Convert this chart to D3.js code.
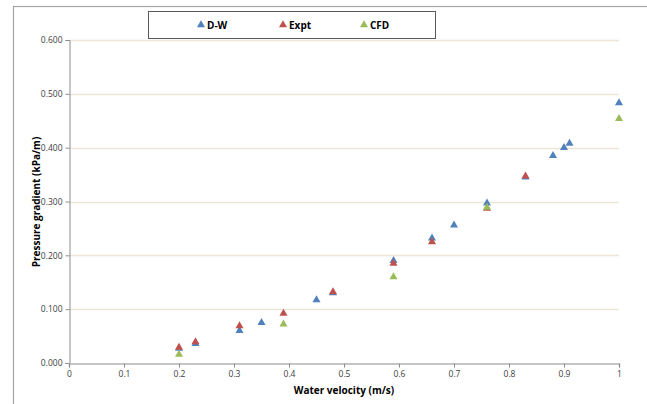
<!DOCTYPE html>
<html><head><meta charset="utf-8">
<script src="https://cdn.jsdelivr.net/npm/d3@7"></script>
<style>
body{margin:0;background:#fff;}
text{font-family:"Open Sans","Liberation Sans",sans-serif;}
</style></head>
<body><svg id="c" width="647" height="404"></svg>
<script>
const xTicks = [0,0.1,0.2,0.3,0.4,0.5,0.6,0.7,0.8,0.9,1];
const xTickLabels = ["0","0.1","0.2","0.3","0.4","0.5","0.6","0.7","0.8","0.9","1"];
const yTicks = [0,0.1,0.2,0.3,0.4,0.5,0.6];
const seriesNames = ["D-W","Expt","CFD"];
const seriesColors = ["#4f81bd","#c0504d","#9bbb59"];
const dwX = [0.2,0.23,0.31,0.35,0.45,0.48,0.59,0.66,0.70,0.76,0.83,0.88,0.90,0.91,1.0];
const dwY = [0.027,0.036,0.060,0.075,0.117,0.130,0.190,0.232,0.256,0.297,0.345,0.385,0.400,0.408,0.483];
const exptX = [0.2,0.23,0.31,0.39,0.48,0.59,0.66,0.76,0.83];
const exptY = [0.029,0.039,0.069,0.092,0.132,0.185,0.225,0.287,0.347];
const cfdX = [0.2,0.39,0.59,0.76,1.0];
const cfdY = [0.016,0.072,0.160,0.289,0.454];

const svg = d3.select("#c");
// outer frame
svg.append("rect").attr("x",13.5).attr("y",6.5).attr("width",700).attr("height",500)
  .attr("fill","none").attr("stroke","#a6a6a6").attr("stroke-width",1.2);

const x = d3.scaleLinear().domain([0,1]).range([69,619]);
const y = d3.scaleLinear().domain([0,0.6]).range([363,40]);

// gridlines
svg.append("g").selectAll("line").data(yTicks.slice(1)).join("line")
  .attr("x1",69).attr("x2",619).attr("y1",d=>Math.round(y(d))+0.5).attr("y2",d=>Math.round(y(d))+0.5)
  .attr("stroke","#ebe6d6").attr("stroke-width",1.3);

// y axis
const yAxis = svg.append("g").attr("transform","translate(69.5,0)")
  .call(d3.axisLeft(y).tickValues(yTicks).tickFormat(d3.format(".3f")).tickSize(4).tickPadding(3));
yAxis.select(".domain").attr("stroke","#8c8c8c");
yAxis.selectAll(".tick line").attr("stroke","#8c8c8c");
yAxis.selectAll("text").attr("font-size",8.5).attr("fill","#404040");

// x axis
const xAxis = svg.append("g").attr("transform","translate(0,363.5)")
  .call(d3.axisBottom(x).tickValues(xTicks).tickFormat((d,i)=>xTickLabels[i]).tickSize(4).tickPadding(3));
xAxis.select(".domain").attr("stroke","#b3b3b3").attr("stroke-width",1.5);
xAxis.selectAll(".tick line").attr("stroke","#8c8c8c");
xAxis.selectAll("text").attr("font-size",8.5).attr("fill","#404040");

// titles
svg.append("text").attr("x",344).attr("y",394).attr("text-anchor","middle")
  .attr("font-size",10).attr("font-weight","bold").attr("fill","#000").text("Water velocity (m/s)");
svg.append("text").attr("transform","translate(40,202) rotate(-90)").attr("text-anchor","middle")
  .attr("font-size",10).attr("font-weight","bold").attr("fill","#000").text("Pressure gradient (kPa/m)");

const tri = d3.symbol().type(d3.symbolTriangle).size(28);
const series = [[dwX,dwY],[exptX,exptY],[cfdX,cfdY]];
series.forEach((s,k)=>{
  const pts = s[0].map((v,i)=>[v,s[1][i]]);
  svg.append("g").selectAll("path").data(pts).join("path")
    .attr("d",tri).attr("transform",d=>`translate(${x(d[0])},${y(d[1])})`)
    .attr("fill",seriesColors[k]);
});

// legend
svg.append("rect").attr("x",148.5).attr("y",11.5).attr("width",287).attr("height",27)
  .attr("fill","#fff").attr("stroke","#595959").attr("stroke-width",1);
const legX = [201,283,364];
seriesNames.forEach((n,k)=>{
  svg.append("path").attr("d",tri).attr("transform",`translate(${legX[k]},25)`).attr("fill",seriesColors[k]);
  svg.append("text").attr("x",legX[k]+6).attr("y",28.5).attr("font-size",10).attr("font-weight","bold")
    .attr("fill","#000").text(n);
});
</script></body></html>
